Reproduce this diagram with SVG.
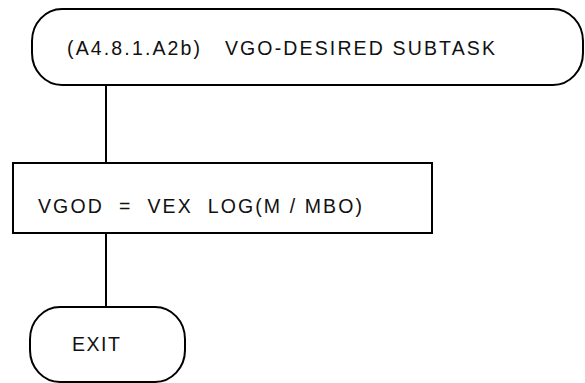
<svg xmlns="http://www.w3.org/2000/svg" width="585" height="383" viewBox="0 0 585 383">
<style>
.s{fill:#fff;stroke:#000;stroke-width:2}
.t{font-family:"Liberation Sans",Arial,sans-serif;font-size:19.5px;fill:#111;white-space:pre}
.c{stroke:#000;stroke-width:2;fill:none}
</style>
<rect width="585" height="383" fill="#fff"/>
<g id="connectors">
<line class="c" x1="106" y1="85" x2="106" y2="163"/>
<line class="c" x1="106" y1="233" x2="106" y2="307"/>
</g>
<g id="start">
<rect class="s" x="32" y="9" width="551" height="76" rx="30" ry="32"/>
<text class="t" x="67" y="55" textLength="428" lengthAdjust="spacing" xml:space="preserve">(A4.8.1.A2b)   VGO-DESIRED SUBTASK</text>
</g>
<g id="process">
<rect class="s" x="13" y="163" width="419" height="70"/>
<text class="t" x="38" y="213" textLength="324" lengthAdjust="spacing" xml:space="preserve">VGOD  =  VEX  LOG(M / MBO)</text>
</g>
<g id="exit">
<rect class="s" x="30" y="307" width="155" height="75" rx="30" ry="32"/>
<text class="t" x="72" y="351" textLength="48" lengthAdjust="spacing">EXIT</text>
</g>
</svg>
